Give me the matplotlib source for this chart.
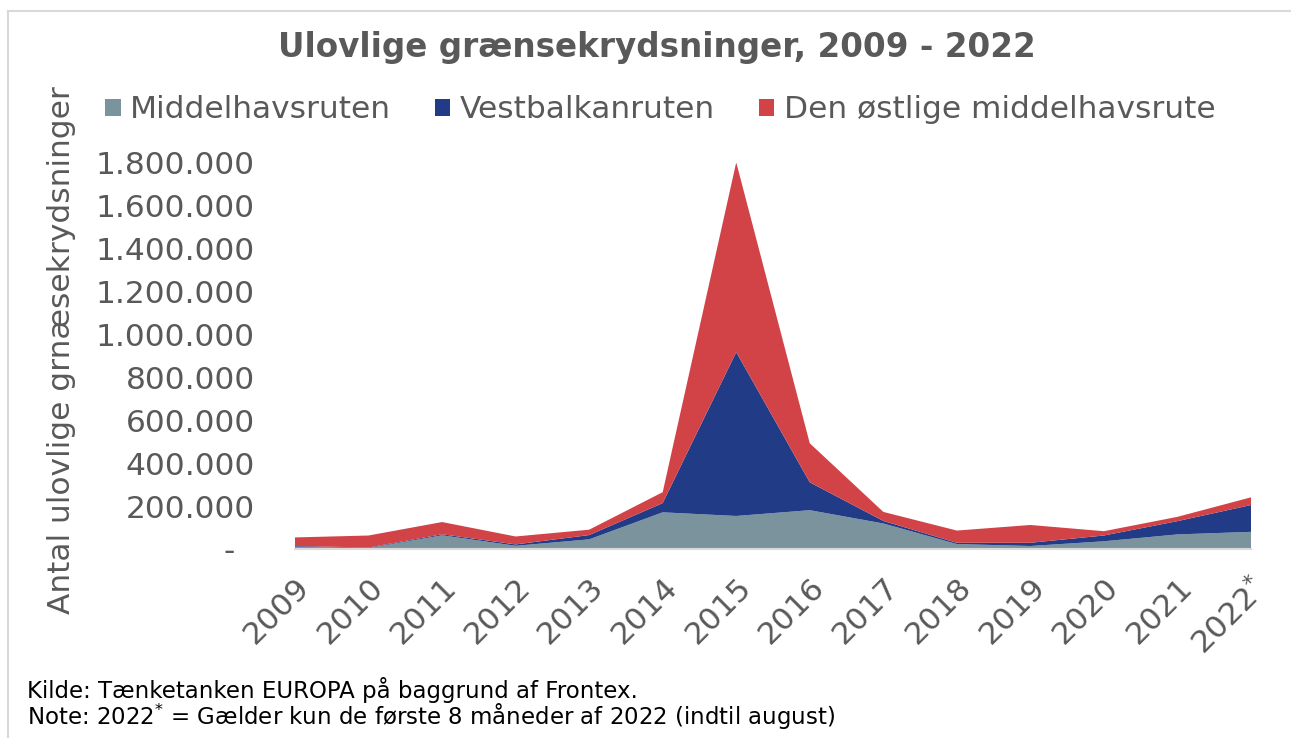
import numpy as np
import matplotlib
matplotlib.use('Agg')
import matplotlib.pyplot as plt
from matplotlib.lines import Line2D

# data
aar = ['2009', '2010', '2011', '2012', '2013', '2014', '2015', '2016',
       '2017', '2018', '2019', '2020', '2021', '2022$^{*}$']
middelhav = [11000, 4500, 64000, 15000, 45000, 171000, 154000, 181000,
             119000, 23000, 14000, 36000, 68000, 80000]
vestbalkan = [3000, 2400, 4700, 6400, 20000, 43000, 764000, 130000,
              12000, 6000, 15000, 27000, 62000, 125000]
oestmiddelhav = [40000, 56000, 57000, 37000, 25000, 51000, 885000, 182000,
                 42000, 57000, 83000, 20000, 20000, 36000]
navne = ['Middelhavsruten', 'Vestbalkanruten', 'Den østlige middelhavsrute']
farver = ['#7A939C', '#213B87', '#D14347']
yticks = np.arange(0, 1800001, 200000)

graa = '#595959'
W, H = 1291, 738
fig = plt.figure(figsize=(W / 100, H / 100), dpi=100)

# axes placed in pixel terms
x0, x1, ybund, ytop = 295, 1251, 549, 163
ax = fig.add_axes([x0 / W, 1 - ybund / H, (x1 - x0) / W, (ybund - ytop) / H])

x = np.arange(len(aar))
polys = ax.stackplot(x, middelhav, vestbalkan, oestmiddelhav, colors=farver,
                     labels=navne, linewidth=0)
ax.set_xlim(0, len(aar) - 1)
ax.set_ylim(0, 1800000)
ax.margins(0)

ax.set_yticks(yticks)
ax.set_yticklabels(['-  '] + [f'{v:,}'.replace(',', '.') for v in yticks[1:]])
ax.set_xticks(x)
ax.set_xticklabels(aar, rotation=45, ha='right', va='top', rotation_mode='anchor')
ax.tick_params(axis='y', length=0, pad=29, labelsize=22.5, labelcolor=graa)
ax.tick_params(axis='x', length=0, pad=17, labelsize=22.5, labelcolor=graa)

for s in ['top', 'right', 'left']:
    ax.spines[s].set_visible(False)
ax.spines['bottom'].set_color('#D9D9D9')
ax.spines['bottom'].set_linewidth(1.5)

fig.text(0.048, 1 - 350 / H, 'Antal ulovlige grnæsekrydsninger', rotation=90,
         ha='center', va='center', fontsize=22.5, color=graa)

fig.text(657 / W, 1 - 48 / H, 'Ulovlige grænsekrydsninger, 2009 - 2022',
         ha='center', va='center', fontsize=23.5, fontweight='bold', color=graa)

leg = fig.legend(handles=polys, labels=navne, loc='center', ncol=3,
                 bbox_to_anchor=(660 / W, 1 - 110 / H), frameon=False,
                 fontsize=22.5, handlelength=0.5, handleheight=0.5,
                 handletextpad=0.3, columnspacing=1.4)
for t in leg.get_texts():
    t.set_color(graa)

fig.text(27 / W, 1 - 690 / H, 'Kilde: Tænketanken EUROPA på baggrund af Frontex.',
         ha='left', va='center', fontsize=16.5, color='black')
fig.text(27 / W, 1 - 717 / H,
         'Note: 2022$^{*}$ = Gælder kun de første 8 måneder af 2022 (indtil august)',
         ha='left', va='center', fontsize=16.5, color='black')

# ramme
fig.add_artist(Line2D([8 / W, 1], [1 - 11 / H, 1 - 11 / H], color='#D9D9D9', lw=1.5))
fig.add_artist(Line2D([8 / W, 8 / W], [0, 1 - 11 / H], color='#D9D9D9', lw=1.5))

fig.savefig('out.png', dpi=100, facecolor='white')
